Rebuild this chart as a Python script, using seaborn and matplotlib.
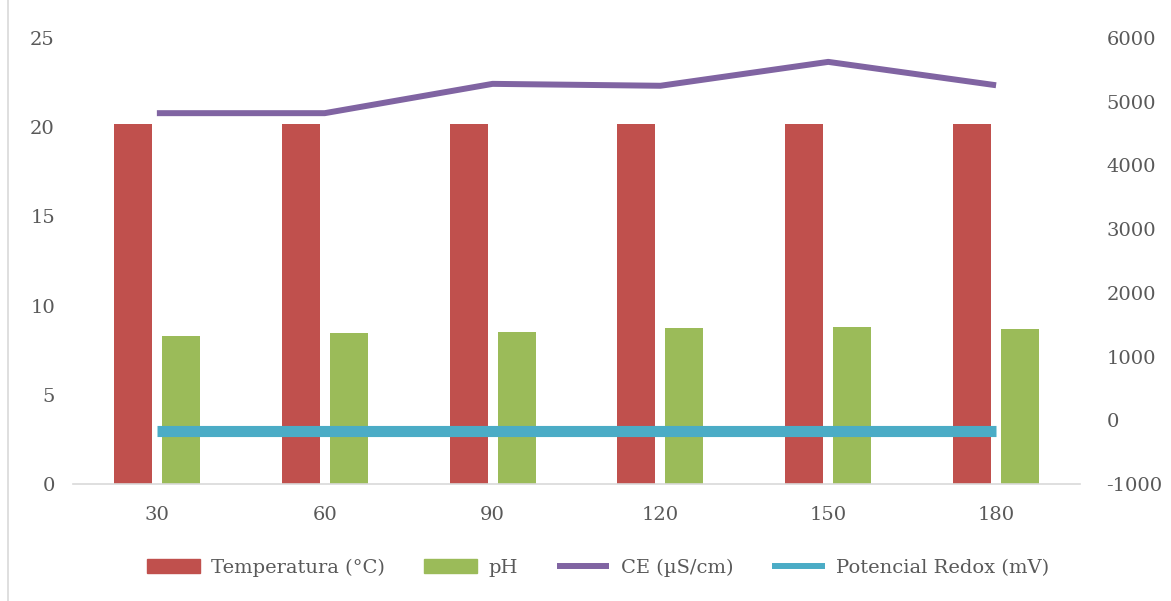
import numpy as np
import pandas as pd
import matplotlib
matplotlib.use("Agg")
import matplotlib.pyplot as plt
import seaborn as sns
from matplotlib.patches import Patch
from matplotlib.lines import Line2D

# data
tiempo = ["30", "60", "90", "120", "150", "180"]
temperatura = [20.2, 20.2, 20.2, 20.2, 20.2, 20.2]
ph = [8.30, 8.45, 8.54, 8.73, 8.78, 8.69]
ce = [4820, 4820, 5280, 5250, 5625, 5258]
redox = [-175, -175, -175, -175, -175, -175]

c_temp = "#C0504D"
c_ph = "#9BBB59"
c_ce = "#8064A2"
c_redox = "#4BACC6"
txt = "#595959"

sns.set_theme(style="white")
plt.rcParams["font.family"] = ["DejaVu Serif"]
plt.rcParams["axes.unicode_minus"] = False

bars = pd.DataFrame({"t": tiempo * 2,
                     "v": temperatura + ph,
                     "serie": ["Temperatura (°C)"] * 6 + ["pH"] * 6})
lines = pd.DataFrame({"t": tiempo, "ce": ce, "redox": redox})

fig = plt.figure(figsize=(11.71, 6.01), dpi=100)
ax = fig.add_axes([0.0623, 0.1947, 0.8600, 0.7421])

sns.barplot(data=bars, x="t", y="v", hue="serie", order=tiempo,
            palette=[c_temp, c_ph], saturation=1, width=0.572, gap=0.21,
            errorbar=None, legend=False, linewidth=0, ax=ax, zorder=2)
ax.set_ylim(0, 25)
ax.set_yticks(np.arange(0, 26, 5))
ax.set_xlim(-0.5, 5.5)

ax2 = ax.twinx()
sns.pointplot(data=lines, x="t", y="ce", order=tiempo, color=c_ce,
              markers="", linewidth=4.3, ax=ax2)
sns.pointplot(data=lines, x="t", y="redox", order=tiempo, color=c_redox,
              markers="", linewidth=8, ax=ax2)
for l in ax2.lines:
    l.set_solid_capstyle("butt")
ax2.set_ylim(-1000, 6000)
ax2.set_yticks(np.arange(-1000, 6001, 1000))
ax2.set_xlim(-0.5, 5.5)

for a in (ax, ax2):
    a.set_xlabel("")
    a.set_ylabel("")
    for s in a.spines.values():
        s.set_visible(False)
    a.grid(False)
ax.spines["bottom"].set_visible(True)
ax.spines["bottom"].set_color("#D9D9D9")
ax.spines["bottom"].set_linewidth(1.2)

ax.tick_params(axis="x", length=0, pad=16, labelsize=14, labelcolor=txt)
ax.tick_params(axis="y", length=0, pad=13, labelsize=14, labelcolor=txt)
ax2.tick_params(axis="y", length=0, pad=19, labelsize=14, labelcolor=txt)
ax2.tick_params(axis="x", length=0)

handles = [Patch(color=c_temp), Patch(color=c_ph),
           Line2D([], [], color=c_ce, lw=4.3, solid_capstyle="butt"),
           Line2D([], [], color=c_redox, lw=4.3, solid_capstyle="butt")]
labels = ["Temperatura (°C)", "pH", "CE (µS/cm)", "Potencial Redox (mV)"]
leg = fig.legend(handles, labels, loc="center", bbox_to_anchor=(0.511, 0.055),
                 ncol=4, frameon=False, fontsize=14, handlelength=2.7,
                 handleheight=0.7, columnspacing=2.0, handletextpad=0.6)
for t in leg.get_texts():
    t.set_color(txt)

# chart frame edge on the left
fig.add_artist(Line2D([0.007, 0.007], [0.0, 1.0], color="#D9D9D9", lw=1.2))

fig.savefig("out.png", dpi=100)
